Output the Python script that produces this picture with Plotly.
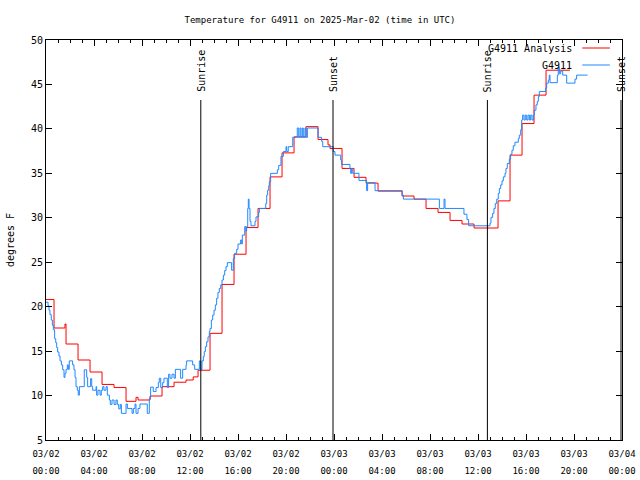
import plotly.graph_objects as go
import pandas as pd

# ---------------- data ----------------
base = pd.Timestamp("2025-03-02 00:00")

# Analysis (red), hours since 2025-03-02 00:00 UTC
analysis_hours = [0, 0.67, 1.58, 1.67, 2.67, 3.67, 4.67, 5.67, 6.67, 7.5,
                  7.67, 8.67, 9.67, 10.67, 11.67, 12.27, 12.67, 13.67, 14.67, 15.67,
                  16.67, 17.67, 18.67, 19.67, 20.67, 21.67, 22.67, 23.5, 23.67, 24.67,
                  25.67, 26.67, 27.67, 28.67, 29.67, 30.67, 31.67, 32.67, 33.67, 34.67,
                  35.67, 36.67, 37.67, 38.67, 39.67, 40.67, 41.67, 42.67, 43.67]
analysis_temps = [20.8, 17.6, 18.05, 15.8, 14.0, 12.65, 11.25, 10.9, 9.35, 9.8,
                  9.5, 9.95, 11.0, 11.5, 11.75, 12.1, 12.85, 17.0, 22.5, 25.9,
                  28.9, 31.05, 34.6, 37.3, 39.1, 40.25, 38.8, 38.2, 37.8, 35.55,
                  34.55, 33.9, 33.0, 33.0, 32.45, 32.1, 31.05, 30.6, 29.7, 29.3,
                  28.85, 28.85, 31.9, 37.05, 40.6, 43.8, 46.6, 46.6, 46.6]

# Station observations (blue)
obs_hours = [0, 0.17, 0.25, 0.33, 0.44, 0.53, 0.61, 0.72, 0.81, 0.89,
             0.97, 1.08, 1.17, 1.28, 1.39, 1.5, 1.58, 1.67, 1.78, 1.86,
             1.94, 2.22, 2.33, 2.42, 2.5, 2.61, 2.69, 2.78, 3.19, 3.39,
             3.47, 3.72, 3.81, 3.89, 4.17, 4.22, 4.33, 4.5, 4.61, 4.72,
             4.83, 5.0, 5.11, 5.28, 5.36, 5.5, 5.67, 5.83, 5.94, 6.06,
             6.19, 6.28, 6.67, 6.78, 7.17, 7.28, 7.42, 7.5, 7.67, 7.83,
             8.44, 8.61, 8.72, 8.94, 9.17, 9.36, 9.44, 9.56, 9.72, 9.83,
             10.11, 10.22, 10.33, 10.5, 10.67, 10.78, 11.22, 11.39, 11.67, 11.72,
             12.22, 12.39, 12.78, 12.89, 13.0, 13.11, 13.19, 13.28, 13.39, 13.5,
             13.61, 13.67, 13.78, 13.89, 14.0, 14.11, 14.22, 14.33, 14.44, 14.56,
             14.67, 14.78, 14.89, 15.0, 15.11, 15.47, 15.61, 15.72, 15.89, 16.0,
             16.22, 16.31, 16.36, 16.56, 16.67, 16.72, 16.81, 16.86, 16.92, 17.0,
             17.08, 17.42, 17.5, 17.72, 17.78, 18.31, 18.39, 18.47, 18.56, 18.61,
             18.72, 19.28, 19.39, 19.58, 19.78, 20.0, 20.06, 20.19, 20.56, 20.94,
             21.06, 21.17, 21.25, 21.36, 21.44, 21.58, 21.67, 21.78, 22.67, 22.97,
             23.06, 23.94, 24.08, 24.56, 24.64, 25.33, 25.39, 25.47, 25.56,
             26.08, 26.72, 26.8, 27.42, 29.69, 29.78, 32.78, 33.17, 33.25,
             34.83, 35.08, 35.22, 37.0, 37.08, 37.22, 37.33, 37.44, 37.56, 37.69,
             37.78, 37.89, 38.0, 38.11, 38.25, 38.33, 38.44, 38.61, 38.72, 38.83,
             38.94, 39.08, 39.36, 39.44, 39.56, 39.64, 39.72, 39.83, 39.94, 40.06,
             40.17, 40.28, 40.39, 40.5, 40.61, 40.69, 40.83, 40.94, 41.03, 41.11,
             41.64, 41.72, 41.86, 41.94, 42.0, 42.61, 42.69, 42.78, 42.89, 43.06,
             43.39, 43.92, 44.08, 44.22, 45.13]
obs_temps = [20.5, 20.1, 19.6, 19.1, 18.5, 17.9, 17.4, 16.4, 15.95, 15.4,
             14.9, 14.45, 13.9, 13.45, 12.9, 12.05, 12.5, 12.95, 13.45, 12.95,
             13.9, 13.45, 12.9, 12.05, 11.0, 10.6, 10.05, 11.0, 12.9, 12.05,
             11.0, 11.9, 11.0, 10.6, 11.0, 10.05, 10.6, 10.05, 10.6, 11.0,
             10.6, 11.0, 10.05, 9.5, 9.0, 9.5, 9.0, 9.5, 9.0, 8.5,
             9.0, 8.0, 9.05, 8.55, 8.0, 8.55, 9.05, 8.0, 8.55, 9.05,
             8.0, 9.7, 10.95, 10.45, 10.9, 11.45, 11.95, 10.9, 11.45, 11.95,
             10.9, 12.4, 11.95, 12.4, 11.95, 12.95, 11.95, 12.95, 13.45, 13.9,
             13.45, 12.95, 13.9, 12.95, 13.9, 14.4, 14.95, 15.5, 16.05, 16.6,
             17.2, 17.55, 18.5, 19.05, 19.6, 20.2, 20.95, 21.6, 22.05, 22.45,
             23.0, 23.55, 24.05, 24.5, 24.95, 24.1, 25.4, 26.0, 26.45, 27.05,
             27.5, 27.05, 28.05, 29.0, 28.5, 29.0, 31.05, 32.1, 31.05, 29.6,
             29.1, 29.6, 30.1, 30.6, 31.05, 31.6, 32.55, 33.1, 33.6, 34.05,
             35.0, 35.4, 35.9, 36.9, 37.45, 38.0, 37.45, 38.0, 39.05, 40.1,
             39.05, 40.1, 39.05, 40.1, 39.05, 40.1, 39.05, 40.1, 39.05, 38.6,
             38.0, 37.45, 37.05, 36.5, 36.0, 35.55, 35.0, 35.55, 35.0,
             34.2, 33.05, 33.95, 33.05, 32.55, 32.1, 31.05, 32.1, 31.05,
             30.4, 29.8, 29.1, 29.4, 30.05, 30.5, 31.05, 31.6, 32.1, 32.75,
             33.3, 33.7, 34.15, 34.6, 35.0, 35.55, 36.1, 36.6, 37.15, 37.6,
             38.1, 38.5, 38.9, 39.3, 39.9, 41.0, 41.55, 41.0, 41.55, 41.0,
             41.55, 41.0, 41.55, 41.0, 41.55, 42.1, 42.7, 43.1, 43.65, 44.2,
             44.6, 45.15, 45.5, 46.05, 45.2, 46.05, 46.95, 46.2, 46.5, 46.05,
             45.15, 45.15, 45.6, 46.05, 46.05]

sun_labels = ["Sunrise", "Sunset", "Sunrise", "Sunset"]
sun_times = ["2025-03-02 12:54", "2025-03-02 23:55", "2025-03-03 12:47", "2025-03-03 23:55"]
sun_line_top = 43.25

tick_hours = [0, 4, 8, 12, 16, 20, 24, 28, 32, 36, 40, 44, 48]
tick_dates = ["03/02"] * 6 + ["03/03"] * 6 + ["03/04"]
tick_times = ["00:00", "04:00", "08:00", "12:00", "16:00", "20:00"] * 2 + ["00:00"]

series_names = ["G4911 Analysis", "G4911"]
series_colors = ["#FF0000", "#1E88FF"]

title_text = "Temperature for G4911 on 2025-Mar-02 (time in UTC)"
y_label = "degrees F"
y_range = [5, 50]

# ---------------- figure ----------------
def to_time(hours):
    return [base + pd.Timedelta(hours=h) for h in hours]

FONT = "DejaVu Sans Mono"
FS = 9
W, H = 640, 480

fig = go.Figure()
fig.add_trace(go.Scatter(x=to_time(analysis_hours), y=analysis_temps, mode="lines",
                         line=dict(color=series_colors[0], width=1, shape="hv"),
                         name=series_names[0], showlegend=False))
fig.add_trace(go.Scatter(x=to_time(obs_hours), y=obs_temps, mode="lines",
                         line=dict(color=series_colors[1], width=1, shape="hv"),
                         name=series_names[1], showlegend=False))

for lab, t in zip(sun_labels, sun_times):
    fig.add_shape(type="line", xref="x", yref="y", x0=t, x1=t, y0=y_range[0], y1=sun_line_top,
                  line=dict(color="black", width=1))
    fig.add_annotation(x=t, y=sun_line_top, xref="x", yref="y", text=lab, textangle=-90,
                       showarrow=False, xanchor="center", yanchor="bottom", yshift=6,
                       font=dict(family=FONT, size=FS + 1, color="black"))

# gnuplot style key (text right, sample line after)
key_rows_y = [0.98, 0.9375]
for name, col, ky in zip(series_names, series_colors, key_rows_y):
    fig.add_annotation(x=0.917, y=ky, xref="paper", yref="paper", text=name, showarrow=False,
                       xanchor="right", yanchor="middle",
                       font=dict(family=FONT, size=FS + 1, color="black"))
    fig.add_shape(type="line", xref="paper", yref="paper", x0=0.931, x1=0.979, y0=ky, y1=ky,
                  line=dict(color=col, width=1))

tickvals = to_time(tick_hours)
ticktext = [f"<span style='font-size:{FS}px'>{d}</span><br><span style='font-size:{FS}px'>{tm}</span>"
            for d, tm in zip(tick_dates, tick_times)]

fig.update_layout(
    width=W, height=H,
    margin=dict(l=46, r=18, t=40, b=40),
    paper_bgcolor="white", plot_bgcolor="white",
    font=dict(family=FONT, size=FS, color="black"),
    title=dict(text=title_text, x=0.5, xref="container", xanchor="center",
               y=1 - 20 / H, yanchor="middle", font=dict(family=FONT, size=FS, color="black")),
    showlegend=False,
)
fig.update_xaxes(
    type="date", range=[to_time([0])[0], to_time([48])[0]],
    tickvals=tickvals, ticktext=ticktext, tickfont=dict(family=FONT, size=13),
    ticklabeloverflow="allow",
    ticks="inside", ticklen=6, tickcolor="black", tickwidth=1,
    minor=dict(dtick=3600000, ticks="inside", ticklen=3, tickcolor="black", showgrid=False),
    showline=True, linecolor="black", linewidth=1, mirror="ticks",
    showgrid=False, zeroline=False, automargin=False,
)
fig.update_yaxes(
    range=y_range, dtick=5, tick0=5,
    ticks="inside", ticklen=6, tickcolor="black", tickwidth=1,
    tickfont=dict(family=FONT, size=FS + 1),
    showline=True, linecolor="black", linewidth=1, mirror="ticks",
    showgrid=False, zeroline=False, automargin=False,
    title=dict(text=y_label, font=dict(family=FONT, size=FS + 1), standoff=14),
)

fig.write_html("out.html",
               config={"displayModeBar": False},
               post_script="document.body.style.margin='0';document.body.style.overflow='hidden';")
